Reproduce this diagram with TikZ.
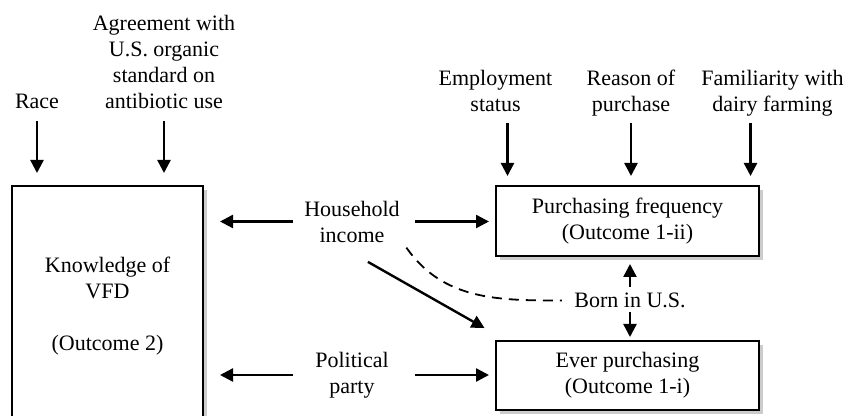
\documentclass[tikz,border=0pt]{standalone}
\usepackage{fontspec}
\setmainfont{Liberation Serif}
\usetikzlibrary{arrows.meta,shadows}
\begin{document}
\begin{tikzpicture}[x=0.5pt,y=-0.5pt,font=\fontsize{11}{13}\selectfont,
    outcome/.style={draw,line width=1pt,fill=white,align=center,
      drop shadow={shadow xshift=2pt,shadow yshift=-2pt,fill=black!40}},
    factor/.style={align=center,inner sep=0pt},
    mid/.style={factor,text width=50pt,inner xsep=4.5pt},
    arr/.style={line width=1.2pt,-{Triangle[length=6.5pt,width=6.5pt]}}]
\useasboundingbox (0,0) rectangle (856,416);
% outcomes
\node[outcome,minimum width=95.5pt,minimum height=120pt] (knowledge) at (107.5,306)
    {Knowledge of\\VFD\\[13pt](Outcome 2)};
\node[outcome,minimum width=131.5pt,minimum height=35pt] (freq) at (627.5,221)
    {Purchasing frequency\\(Outcome 1-ii)};
\node[outcome,minimum width=131.5pt,minimum height=34.5pt] (ever) at (627.5,375.5)
    {Ever purchasing\\(Outcome 1-i)};
% factors
\node[factor] (race) at (37,101.5) {Race};
\node[factor] (agree) at (164,61.5) {Agreement with\\U.S. organic\\standard on\\antibiotic use};
\node[factor,anchor=north] (employ) at (495.5,70) {Employment\\status};
\node[factor,anchor=north] (reason) at (631,70) {Reason of\\purchase};
\node[factor,anchor=north] (familiar) at (772.5,70) {Familiarity with\\dairy farming};
\node[mid] (income) at (352,221.5) {Household\\income};
\node[mid] (party) at (352,375) {Political\\party};
\node[factor,inner xsep=6pt] (born) at (630,300.5) {Born in U.S.};

\foreach \f in {race,agree}
  \draw[arr,shorten >=6pt] (\f.south |- 0,121) -- (\f.south |- knowledge.north);
\foreach \f/\dx in {employ/6pt,reason/0pt,familiar/-11pt}
  \draw[arr,shorten >=4.5pt] ([xshift=\dx]\f.south |- 0,123) -- ([xshift=\dx]\f.south |- freq.north);
\draw[arr,shorten >=8pt] (income.west) -- (income.west -| knowledge.east);
\draw[arr,shorten >=8pt] (party.west) -- (party.west -| knowledge.east);
\draw[arr,shorten <=2pt,shorten >=3pt] (income.east) -- (income.east -| freq.west);
\draw[arr,shorten <=2pt,shorten >=3pt] (party.east) -- (party.east -| ever.west);
\draw[arr,shorten <=19.5pt,shorten >=6pt] ([xshift=-9pt]income.south) -- ([yshift=3pt]ever.north west);
\draw[line width=0.9pt,dash pattern=on 5pt off 3.5pt]
  ([xshift=-2.5pt,yshift=-2.5pt]income.south east) to[out=-55,in=180] (born.west);
\draw[arr,shorten <=3pt,shorten >=3.5pt] (born.north) -- (born.north |- freq.south);
\draw[arr,shorten <=2pt,shorten >=1.5pt] (born.south) -- (born.south |- ever.north);
\end{tikzpicture}
\end{document}
